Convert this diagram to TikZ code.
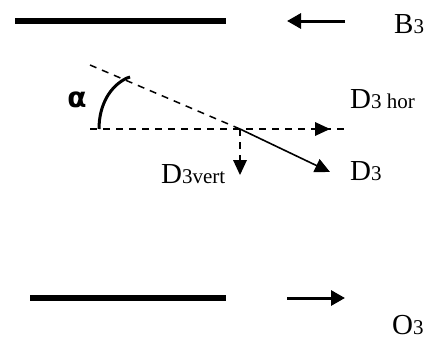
\documentclass[tikz,border=0pt]{standalone}
\usepackage{fontspec}
\setmainfont{Liberation Serif}
\newfontfamily\symfont{DejaVu Sans}
\usetikzlibrary{arrows.meta}
\tikzset{
  plate/.style={line width=6pt},
  bigarrow/.style={line width=3pt,-{Triangle[length=14pt,width=15pt]}},
  dashline/.style={line width=1.5pt,dash pattern=on 7pt off 6pt},
  thinarrow/.style={line width=1.6pt,-{Triangle[length=15pt,width=14pt]}},
  lbl/.style={anchor=base west,inner sep=0pt,font=\fontsize{29}{32}\selectfont},
}
\newcommand{\sm}[1]{{\fontsize{21}{23}\selectfont #1}}
\begin{document}
\begin{tikzpicture}[x=1pt,y=-1pt]
\useasboundingbox (0,0) rectangle (435,340);
% plates
\coordinate (t1) at (15,21); \coordinate (t2) at (226,21);
\coordinate (b1) at (30,298); \coordinate (b2) at (226,298);
\draw[plate] (t1) -- (t2);
\draw[plate] (b1) -- (b2);
% top and bottom arrows
\coordinate (ta1) at (345,21); \coordinate (ta2) at (287,21);
\coordinate (ba1) at (287,298); \coordinate (ba2) at (345,298);
\draw[bigarrow] (ta1) -- (ta2);
\draw[bigarrow] (ba1) -- (ba2);
% labels
\node[lbl] (B) at (394,33) {B\sm{3}};
\node[lbl] (O) at (392,334) {O\sm{3}};
\node[lbl] (Dh) at (350,108) {D\sm{3 hor}};
\node[lbl] (D) at (350,180) {D\sm{3}};
\node[lbl] (Dv) at (161,183) {D\sm{3vert}};
\node[inner sep=0pt,font=\symfont\bfseries\fontsize{28}{30}\selectfont] (al) at (77,100) {α};
% geometry
\coordinate (P) at (240,129);
\coordinate (hs) at (90,129); \coordinate (he) at (347,129);
\coordinate (ht) at (330,129);
\coordinate (ss) at (90,65);
\coordinate (dt) at (330,172);
\coordinate (vt) at (240,175);
\coordinate (vs) at (240,163);
\coordinate (a1) at (99,129); \coordinate (a2) at (127,78);
\draw[dashline] (hs) -- (he);
\draw[dashline] (ss) -- (P);
\fill (ht) -- ++(-15,-7) -- ++(0,14) -- cycle;
\draw[thinarrow] (P) -- (dt);
\draw[dashline] (P) -- (vs);
\fill (vt) -- ++(-7,-15) -- ++(14,0) -- cycle;
\draw[line width=3pt] (a1) .. controls (99,105) and (110,86) .. (a2) -- ++(3,-1);
\end{tikzpicture}
\end{document}
